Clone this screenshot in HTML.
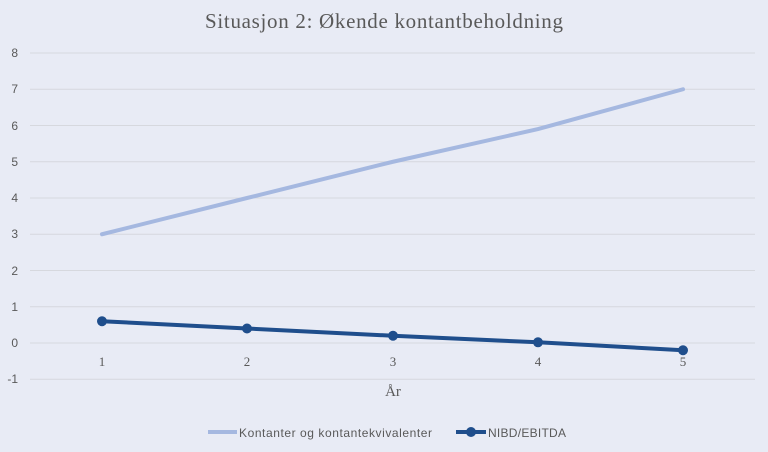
<!DOCTYPE html>
<html><head><style>body{margin:0;background:#e8ebf5;}svg{display:block}</style></head><body>
<svg width="768" height="452" xmlns="http://www.w3.org/2000/svg">
<rect width="768" height="452" fill="#e8ebf5"/>
<text x="384" y="28" text-anchor="middle" font-family="Liberation Serif, serif" font-size="21" fill="#595959" textLength="358">Situasjon 2: Økende kontantbeholdning</text>
<g stroke="#d6d8de" stroke-width="1">
<line x1="30" x2="755" y1="53" y2="53"/><line x1="30" x2="755" y1="89.25" y2="89.25"/><line x1="30" x2="755" y1="125.5" y2="125.5"/><line x1="30" x2="755" y1="161.75" y2="161.75"/><line x1="30" x2="755" y1="198" y2="198"/><line x1="30" x2="755" y1="234.25" y2="234.25"/><line x1="30" x2="755" y1="270.5" y2="270.5"/><line x1="30" x2="755" y1="306.75" y2="306.75"/><line x1="30" x2="755" y1="343" y2="343"/><line x1="30" x2="755" y1="379.25" y2="379.25"/>
</g>
<g font-family="Liberation Sans, sans-serif" font-size="12" fill="#595959" text-anchor="end">
<text x="18" y="57">8</text><text x="18" y="93">7</text><text x="18" y="130">6</text><text x="18" y="166">5</text><text x="18" y="202">4</text><text x="18" y="238">3</text><text x="18" y="275">2</text><text x="18" y="311">1</text><text x="18" y="347">0</text><text x="18" y="383">-1</text>
</g>
<g font-family="Liberation Serif, serif" font-size="13" fill="#595959" text-anchor="middle">
<text x="102" y="366">1</text><text x="247" y="366">2</text><text x="393" y="366">3</text><text x="538" y="366">4</text><text x="683" y="366">5</text>
<text x="393" y="396" font-size="15">År</text>
</g>
<polyline points="102,234.25 247,198 393,161.75 538,129.1 683,89.25" fill="none" stroke="#a5b8e0" stroke-width="4" stroke-linecap="round"/>
<polyline points="102,321.25 247,328.5 393,335.75 538,342.3 683,350.25" fill="none" stroke="#1f4e8c" stroke-width="4" stroke-linecap="round"/>
<g fill="#1f4e8c"><circle cx="102" cy="321.25" r="5"/><circle cx="247" cy="328.5" r="5"/><circle cx="393" cy="335.75" r="5"/><circle cx="538" cy="342.3" r="5"/><circle cx="683" cy="350.25" r="5"/></g>
<line x1="208" x2="237" y1="432" y2="432" stroke="#a5b8e0" stroke-width="4"/>
<text x="239" y="437" font-family="Liberation Sans, sans-serif" font-size="12" fill="#595959" textLength="193">Kontanter og kontantekvivalenter</text>
<line x1="456" x2="486" y1="432" y2="432" stroke="#1f4e8c" stroke-width="4"/>
<circle cx="471" cy="432" r="5" fill="#1f4e8c"/>
<text x="488" y="437" font-family="Liberation Sans, sans-serif" font-size="12" fill="#595959" textLength="78">NIBD/EBITDA</text>
</svg>
</body></html>
